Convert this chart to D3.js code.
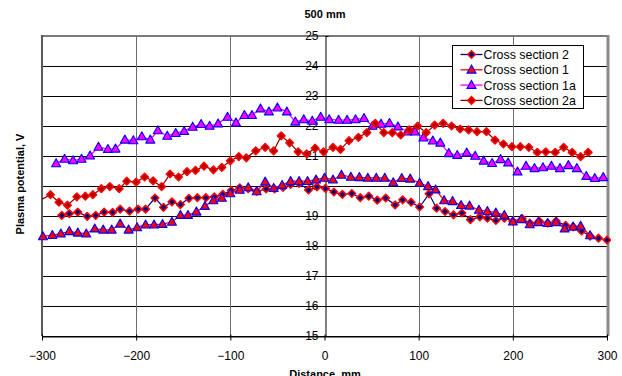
<!DOCTYPE html>
<html>
<head>
<meta charset="utf-8">
<script src="https://cdn.jsdelivr.net/npm/d3@7"></script>
<style>
  html, body { margin: 0; padding: 0; background: #fff; }
  svg { display: block; font-family: "Liberation Sans", Arial, sans-serif; }
</style>
</head>
<body>
<svg id="chart" width="622" height="376"></svg>
<script>
// Axis ticks
const xTicks = [-300, -200, -100, 0, 100, 200, 300];
const yTicks = [15, 16, 17, 18, 19, 20, 21, 22, 23, 24, 25];

const chartTitle = "500 mm";
const xTitle = "Distance, mm";
const yTitle = "Plasma potential, V";

const seriesNames = ["Cross section 2", "Cross section 1", "Cross section 1a", "Cross section 2a"];

// Cross section 2
const cs2X = [-279, -271, -262, -252, -243, -234, -225, -217, -207, -198, -190, -180, -171, -162, -153, -144,
  -135, -126, -117, -108, -99, -90, -81, -72, -62, -53, -44, -36, -27, -17, -8, 1, 10, 19, 29, 38, 47, 56, 65,
  75, 83, 92, 101, 111, 119, 128, 137, 146, 155, 165, 173, 182, 191, 200, 210, 218, 228, 237, 246, 256, 264,
  273, 282, 291, 300];
const cs2Y = [19.02, 19.08, 19.13, 18.99, 19.02, 19.13, 19.12, 19.23, 19.16, 19.23, 19.23, 19.6, 19.29, 19.47,
  19.38, 19.59, 19.61, 19.61, 19.64, 19.72, 19.85, 19.94, 19.91, 19.82, 19.9, 19.9, 19.95, 20.05, 20.09, 19.87,
  19.97, 19.92, 19.8, 19.72, 19.75, 19.61, 19.66, 19.53, 19.6, 19.37, 19.54, 19.46, 19.3, 19.74, 19.26, 19.15,
  19.04, 19.1, 18.88, 18.97, 18.93, 18.85, 18.93, 18.83, 18.91, 18.76, 18.83, 18.76, 18.83, 18.69, 18.64, 18.5,
  18.33, 18.26, 18.2];

// Cross section 1
const cs1X = [-299, -289, -280, -271, -262, -253, -244, -235, -226, -217, -208, -199, -190, -181, -172, -162,
  -153, -145, -136, -127, -118, -109, -100, -90, -81, -72, -63, -54, -45, -36, -27, -18, -9, 0, 9, 18, 28, 37,
  46, 55, 64, 73, 82, 91, 101, 110, 118, 127, 136, 145, 154, 164, 173, 182, 191, 200, 209, 218, 227, 237, 246,
  255, 264, 272, 282];
const cs1Y = [18.32, 18.36, 18.41, 18.49, 18.44, 18.41, 18.58, 18.54, 18.54, 18.74, 18.54, 18.62, 18.71, 18.71,
  18.73, 18.8, 19.03, 19.03, 19.14, 19.33, 19.52, 19.6, 19.75, 19.87, 19.95, 19.82, 20.14, 19.93, 20.03, 20.16,
  20.16, 20.16, 20.21, 20.27, 20.21, 20.37, 20.3, 20.29, 20.27, 20.27, 20.27, 20.12, 20.26, 20.24, 20.1, 19.99,
  19.88, 19.52, 19.49, 19.36, 19.34, 19.2, 19.16, 19.11, 19.03, 18.81, 18.89, 18.72, 18.79, 18.76, 18.79, 18.58,
  18.64, 18.67, 18.35];

// Cross section 1a
const cs1aX = [-285, -276, -267, -258, -249, -240, -230, -222, -212, -203, -194, -185, -177, -167, -158, -149,
  -140, -131, -122, -113, -103, -94, -85, -77, -68, -59, -50, -40, -31, -22, -13, -4, 5, 15, 24, 33, 42, 51, 60,
  69, 78, 88, 96, 105, 115, 123, 132, 141, 151, 160, 169, 178, 187, 195, 205, 214, 223, 232, 241, 250, 259, 268,
  278, 287, 296];
const cs1aY = [20.75, 20.9, 20.85, 20.9, 21.01, 21.3, 21.23, 21.24, 21.54, 21.52, 21.65, 21.54, 21.85, 21.67,
  21.76, 21.83, 21.97, 22.06, 22.0, 22.08, 22.3, 22.11, 22.36, 22.36, 22.58, 22.48, 22.61, 22.48, 22.14, 22.22,
  22.17, 22.3, 22.22, 22.2, 22.2, 22.22, 22.26, 22.0, 22.07, 22.09, 21.98, 21.81, 21.81, 21.61, 21.51, 21.44,
  21.09, 21.03, 21.11, 21.0, 20.84, 20.76, 20.89, 20.78, 20.48, 20.67, 20.59, 20.62, 20.67, 20.59, 20.69, 20.59,
  20.33, 20.26, 20.29];

// Cross section 2a
const cs2aX = [-309, -291, -282, -273, -263, -254, -246, -237, -228, -218, -210, -200, -191, -182, -173, -164,
  -155, -146, -137, -128, -118, -109, -100, -91, -83, -73, -63, -54, -46, -37, -28, -19, -10, -1, 9, 17, 26, 36,
  45, 54, 63, 72, 81, 90, 99, 108, 117, 126, 135, 144, 153, 162, 172, 181, 190, 199, 208, 217, 226, 235, 245,
  254, 263, 272, 280];
const cs2aY = [19.41, 19.71, 19.46, 19.36, 19.64, 19.66, 19.71, 19.91, 19.98, 19.91, 20.16, 20.13, 20.3, 20.17,
  19.98, 20.4, 20.3, 20.48, 20.52, 20.66, 20.54, 20.62, 20.84, 20.98, 20.94, 21.17, 21.29, 21.17, 21.67, 21.44,
  21.14, 21.07, 21.26, 21.14, 21.29, 21.22, 21.51, 21.62, 21.78, 22.09, 21.78, 21.78, 21.7, 21.87, 22.0, 21.78,
  22.03, 22.09, 22.0, 21.9, 21.87, 21.81, 21.81, 21.53, 21.4, 21.31, 21.31, 21.29, 21.12, 21.14, 21.12, 21.29,
  21.12, 20.98, 21.12];

const svg = d3.select("#chart");
const W = 622, H = 376;
const plot = { left: 42, right: 607, top: 36, bottom: 336 };

const x = d3.scaleLinear().domain([-300, 300]).range([plot.left, plot.right]);
const y = d3.scaleLinear().domain([15, 25]).range([plot.bottom, plot.top]);

// Series styles
const styles = [
  { line: "#000080", marker: "diamond", fill: "#000080", stroke: "#ff0000" },
  { line: "#ff0000", marker: "triangle", fill: "#ff0000", stroke: "#0000ff" },
  { line: "#ff00ff", marker: "triangle", fill: "#ff00ff", stroke: "#0000ff" },
  { line: "#800000", marker: "diamond", fill: "#b00000", stroke: "#ff0000" }
];
const seriesX = [cs2X, cs1X, cs1aX, cs2aX];
const seriesY = [cs2Y, cs1Y, cs1aY, cs2aY];

const markerPath = {
  diamond: "M0,-3.8L3.8,0L0,3.8L-3.8,0Z",
  triangle: "M0,-4.7L4.5,3.3L-4.5,3.3Z"
};

svg.append("rect").attr("width", W).attr("height", H).attr("fill", "#fff");

// Clip regions: lines stay inside the plot area, markers may overhang slightly
const defs = svg.append("defs");
defs.append("clipPath").attr("id", "clipLines")
  .append("rect").attr("x", plot.left).attr("y", plot.top)
  .attr("width", plot.right - plot.left).attr("height", plot.bottom - plot.top);
defs.append("clipPath").attr("id", "clipMarkers")
  .append("rect").attr("x", plot.left - 4).attr("y", plot.top - 6)
  .attr("width", plot.right - plot.left + 8).attr("height", plot.bottom - plot.top + 12);

// Horizontal gridlines
svg.append("g").selectAll("line").data(yTicks).join("line")
  .attr("x1", plot.left).attr("x2", plot.right)
  .attr("y1", d => Math.round(y(d)) + 0.5).attr("y2", d => Math.round(y(d)) + 0.5)
  .attr("stroke", "#000").attr("stroke-width", 1);

// Vertical gridlines
svg.append("g").selectAll("line").data(xTicks.filter(d => d !== 0 && Math.abs(d) !== 300)).join("line")
  .attr("x1", d => Math.round(x(d)) + 0.5).attr("x2", d => Math.round(x(d)) + 0.5)
  .attr("y1", plot.top).attr("y2", plot.bottom)
  .attr("stroke", "#6e6e6e").attr("stroke-width", 1);

// Plot area border
svg.append("line").attr("x1", plot.left).attr("x2", plot.right)
  .attr("y1", plot.top).attr("y2", plot.top).attr("stroke", "#7a7a7a").attr("stroke-width", 2);
svg.append("line").attr("x1", plot.left).attr("x2", plot.left)
  .attr("y1", plot.top - 1).attr("y2", plot.bottom).attr("stroke", "#5a5a5a").attr("stroke-width", 2);
svg.append("line").attr("x1", plot.right + 1).attr("x2", plot.right + 1)
  .attr("y1", plot.top - 1).attr("y2", plot.bottom).attr("stroke", "#8a8a8a").attr("stroke-width", 3);

// X axis along the bottom
const xAxis = svg.append("g")
  .attr("transform", `translate(0,${Math.round(y(15)) + 0.5})`)
  .call(d3.axisBottom(x).tickValues(xTicks).tickFormat(d3.format("d")).tickSizeInner(4).tickSizeOuter(0).tickPadding(11));
xAxis.select(".domain").attr("stroke", "#000");
xAxis.selectAll(".tick line").attr("y1", -2).attr("stroke", "#000");
xAxis.selectAll("text").attr("font-size", 12).attr("fill", "#000")
  .attr("font-family", "'Liberation Sans', Arial, sans-serif");

// Y axis crossing at distance 0
const yAxis = svg.append("g")
  .attr("transform", `translate(${Math.round(x(0)) + 0.5},0)`)
  .call(d3.axisLeft(y).tickValues(yTicks).tickFormat(d3.format("d")).tickSizeInner(3).tickSizeOuter(0).tickPadding(4));
yAxis.select(".domain").attr("stroke", "#000");
yAxis.selectAll(".tick line").attr("x2", 3).attr("stroke", "#000");
yAxis.selectAll("text").attr("font-size", 12).attr("fill", "#000")
  .attr("font-family", "'Liberation Sans', Arial, sans-serif");

// Series lines and markers
const lineGen = d3.line().x(d => x(d[0])).y(d => y(d[1]));
seriesNames.forEach((name, i) => {
  const pts = seriesX[i].map((v, k) => [v, seriesY[i][k]]);
  const st = styles[i];
  svg.append("path").datum(pts)
    .attr("clip-path", "url(#clipLines)")
    .attr("d", lineGen).attr("fill", "none")
    .attr("stroke", st.line).attr("stroke-width", 1.2);
  svg.append("g").attr("clip-path", "url(#clipMarkers)")
    .selectAll("path").data(pts).join("path")
    .attr("transform", d => `translate(${x(d[0])},${y(d[1])})`)
    .attr("d", markerPath[st.marker])
    .attr("fill", st.fill).attr("stroke", st.stroke)
    .attr("stroke-width", st.marker === "diamond" ? 1.5 : 1.1)
    .attr("stroke-linejoin", "round");
});

// Titles
svg.append("text").attr("x", 325).attr("y", 18).attr("text-anchor", "middle")
  .attr("font-size", 11).attr("font-weight", "bold").text(chartTitle);
svg.append("text").attr("x", 325).attr("y", 378).attr("text-anchor", "middle")
  .attr("font-size", 11).attr("font-weight", "bold").text(xTitle);
svg.append("text").attr("transform", "translate(24,184) rotate(-90)").attr("text-anchor", "middle")
  .attr("font-size", 11).attr("font-weight", "bold").text(yTitle);

// Legend
const legend = svg.append("g").attr("transform", "translate(452.5,45.5)");
legend.append("rect").attr("width", 131).attr("height", 63)
  .attr("fill", "#fff").attr("stroke", "#000").attr("stroke-width", 1);
seriesNames.forEach((name, i) => {
  const st = styles[i];
  const ry = 9 + i * 15.3;
  const row = legend.append("g").attr("transform", `translate(0,${ry})`);
  row.append("line").attr("x1", 8).attr("x2", 30).attr("y1", 0).attr("y2", 0)
    .attr("stroke", st.line).attr("stroke-width", 1.3);
  row.append("path").attr("transform", "translate(19,0)")
    .attr("d", markerPath[st.marker])
    .attr("fill", st.fill).attr("stroke", st.stroke)
    .attr("stroke-width", st.marker === "diamond" ? 1.5 : 1.1);
  row.append("text").attr("x", 31).attr("y", 0).attr("dy", "0.36em")
    .attr("font-size", 12.4).attr("fill", "#000").text(name);
});
</script>
</body>
</html>
